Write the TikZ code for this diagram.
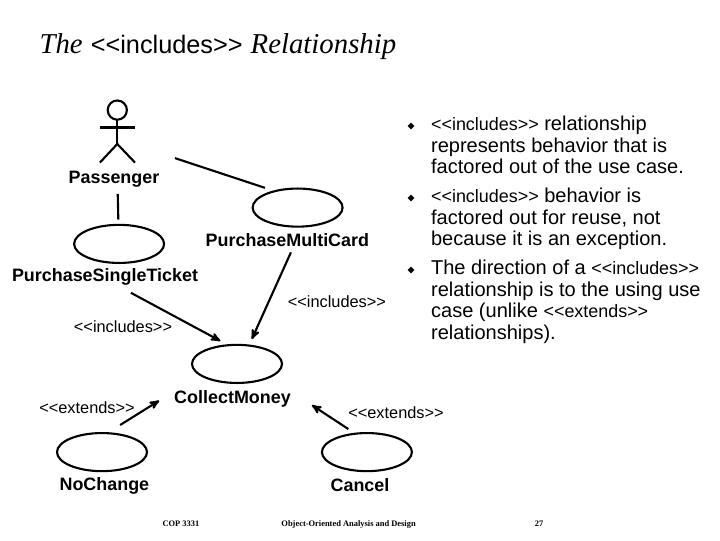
\documentclass[tikz,border=0pt]{standalone}
\usepackage{fontspec}
\setmainfont{Liberation Sans}
\newfontfamily\serifface{Liberation Serif}
\usetikzlibrary{positioning}
\usetikzlibrary{arrows,shapes.geometric}
\newcommand{\incl}{<{}<includes>{}>}
\newcommand{\extd}{<{}<extends>{}>}
\newcommand{\stereo}[1]{{\fontsize{17}{17}\selectfont #1}}
\tikzset{
    %Define standard arrow tip
    >=stealth',
    % use case ellipse
    ucase/.style={
           shape=ellipse,
           draw,
           line width=2pt,
           minimum width=3cm,
           minimum height=1.27cm,
           inner sep=0pt,},
    % names under the use cases
    uclabel/.style={
           font=\fontsize{17}{17}\selectfont\bfseries,
           inner sep=0pt,},
    stereolabel/.style={
           font=\fontsize{15.5}{15.5}\selectfont,
           inner sep=0pt,},
    % stick figure
    figure/.style={
           line width=2pt,},
    % plain association
    assoc/.style={
           line width=2pt,},
    % arrow style
    pil/.style={
           ->,
           line width=2pt,},
    bullet/.style={
           shape=diamond,
           fill=black,
           inner sep=0pt,
           minimum size=6.5pt,},
    bodytext/.style={
           anchor=north west,
           align=left,
           inner sep=0pt,
           font=\fontsize{19}{20.3}\selectfont,},
    footer/.style={
           font=\fontsize{8}{8}\selectfont\serifface\bfseries,
           inner sep=0pt,}
}

\begin{document}
\begin{tikzpicture}[outer sep = 0pt]

\useasboundingbox (0,0) rectangle (24,18);

% title
\node [anchor=base west, inner sep=0pt] (title) at (1.32,16.2)
      {\fontsize{27.3}{27.3}\selectfont{\serifface\itshape The} {\fontsize{24}{24}\selectfont \incl} {\serifface\itshape Relationship}};

% actor
\draw [figure] (3.91,14.33) circle (0.32);
\draw [figure] (3.91,14.01) -- (3.91,13.2);
\draw [figure] (3.32,13.75) -- (4.5,13.75);
\draw [figure] (3.33,12.58) -- (3.91,13.2) -- (4.5,12.58);

% use cases
\node [ucase] (ucMulti)   at ( 9.92,11.08) {};
\node [ucase] (ucSingle)  at ( 3.97, 9.87) {};
\node [ucase] (ucCollect) at ( 7.90, 5.87) {};
\node [ucase] (ucNoChange) at ( 3.40, 2.93) {};
\node [ucase] (ucCancel)  at (12.23, 2.93) {};

% names
\node [uclabel] (lblPassenger) at ( 3.80,12.02) {Passenger};
\node [uclabel] (lblMulti)     at ( 9.58,10.00) {PurchaseMultiCard};
\node [uclabel] (lblSingle)    at ( 3.50, 8.77) {PurchaseSingleTicket};
\node [uclabel] (lblCollect)   at ( 7.75, 4.72) {CollectMoney};
\node [uclabel] (lblNoChange)  at ( 3.48, 1.80) {NoChange};
\node [uclabel] (lblCancel)    at (12.00, 1.83) {Cancel};

% stereotypes
\node [stereolabel] (lblInclA) at (11.23, 7.95) {\incl};
\node [stereolabel] (lblInclB) at ( 4.10, 7.10) {\incl};
\node [stereolabel] (lblExtA)  at ( 2.90, 4.40) {\extd};
\node [stereolabel] (lblExtB)  at (13.20, 4.23) {\extd};

% associations
\coordinate (passOut) at (5.83,12.73);
\draw [assoc, shorten >=10pt] (passOut) -- (ucMulti.144);
\draw [assoc, shorten <=6pt, shorten >=5pt] (lblPassenger.-66) -- (ucSingle.92);

% includes
\draw [pil, shorten <=6pt, shorten >=6.7pt] (lblMulti.-47) -- (ucCollect.57);
\draw [pil, shorten <=15pt, shorten >=8.5pt] (lblSingle.-35) -- (ucCollect.115);

% extends
\draw [pil, shorten <=14.6pt, shorten >=16.8pt] (ucNoChange.75) -- (lblCollect.173.5);
\draw [pil, shorten <=8pt, shorten >=24pt] (ucCancel.122) -- (lblCollect.7);

% bullets
\node [bullet] (bulA) at (13.70,13.80) {};
\node [bullet] (bulB) at (13.70,11.40) {};
\node [bullet] (bulC) at (13.70, 9.00) {};

\node [bodytext] (txtA) at (14.37,14.12)
      {\stereo{\incl} relationship\\represents behavior that is\\factored out of the use case.};
\node [bodytext] (txtB) at (14.37,11.72)
      {\stereo{\incl} behavior is\\factored out for reuse, not\\because it is an exception.};
\node [bodytext] (txtC) at (14.37, 9.32)
      {The direction of a \stereo{\incl}\\relationship is to the using use\\case (unlike \stereo{\extd}\\relationships).};

% footer
\node [footer] (ftCourse) at ( 6.03,0.53) {COP 3331};
\node [footer] (ftTitle)  at (11.62,0.53) {Object-Oriented Analysis and Design};
\node [footer] (ftPage)   at (17.97,0.53) {27};

\end{tikzpicture}
\end{document}
